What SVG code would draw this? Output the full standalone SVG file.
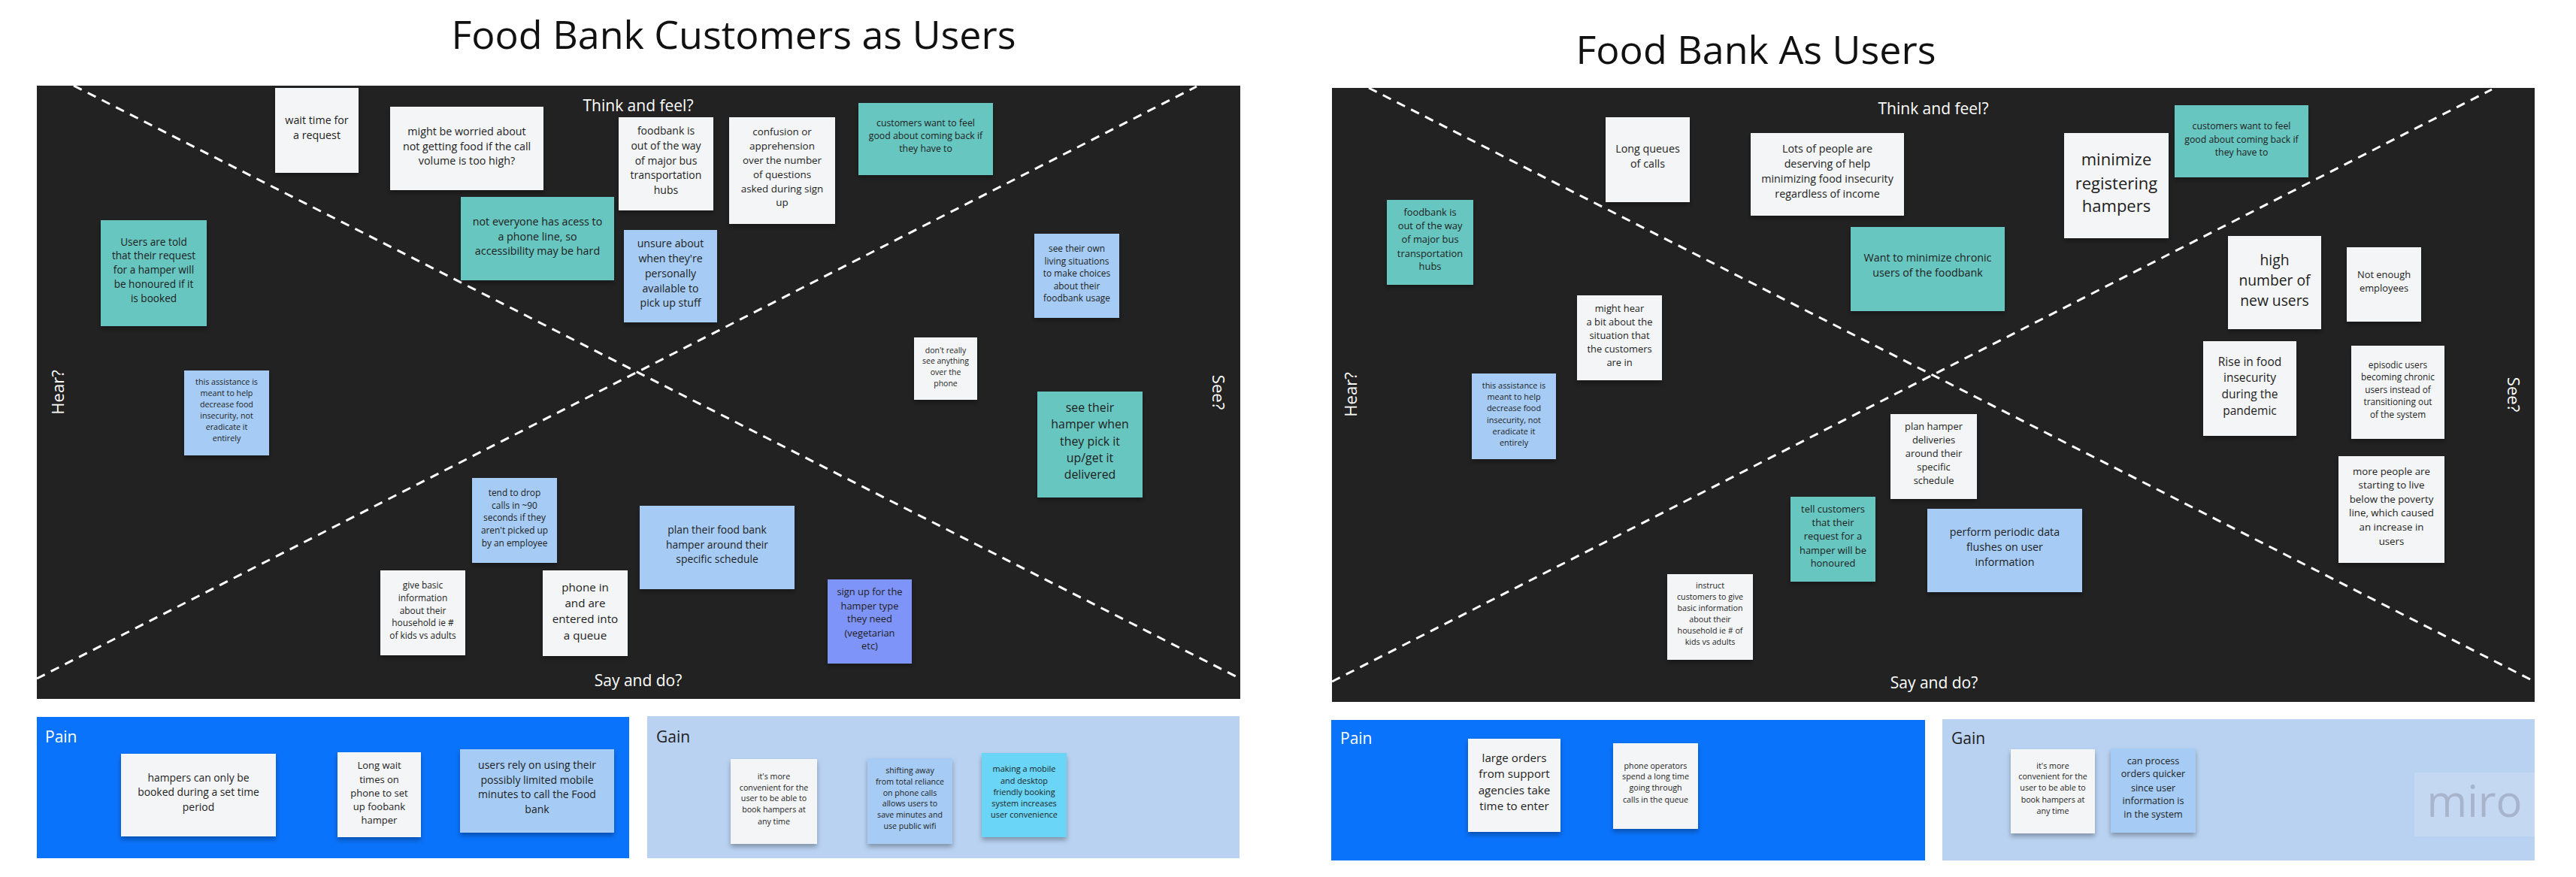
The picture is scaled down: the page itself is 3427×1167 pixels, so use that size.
<svg xmlns="http://www.w3.org/2000/svg" width="3427" height="1167" viewBox="0 0 3427 1167">
<style>
.title{font-family:"Open Sans","Liberation Sans",sans-serif;font-size:52px;fill:#111;text-anchor:middle}
.lbl{font-family:"Open Sans","Liberation Sans",sans-serif;font-size:21px;fill:#fff;text-anchor:middle}
.side{font-family:"Open Sans","Liberation Sans",sans-serif;font-size:22px;fill:#fff;text-anchor:middle}
.t{font-family:"Open Sans","Liberation Sans",sans-serif;fill:#1d1d1d;text-anchor:middle}
.sec{font-family:"Open Sans","Liberation Sans",sans-serif;font-size:21px}
.panel{fill:#222222}
.div{stroke:#ffffff;stroke-width:3;stroke-dasharray:12 9;fill:none}
.w{fill:#f4f5f7;filter:url(#sh)}
.tl{fill:#67c6c0;filter:url(#sh)}
.bl{fill:#a6ccf5;filter:url(#sh)}
.pu{fill:#7f94f8;filter:url(#sh)}
.cy{fill:#6bd5f6;filter:url(#sh)}
.pain{fill:#0a73fb}
.gain{fill:#b9d2f1}
</style>
<defs>
<filter id="sh" x="-10%" y="-10%" width="120%" height="130%">
<feDropShadow dx="0" dy="4" stdDeviation="3" flood-color="#000" flood-opacity="0.3"/>
</filter>
</defs>
<rect x="0" y="0" width="3427" height="1167" fill="#ffffff"/>

<text class="title" x="976" y="65">Food Bank Customers as Users</text>
<text class="title" x="2336" y="85">Food Bank As Users</text>

<!-- Left board -->
<g id="left-board">
<rect class="panel" x="49" y="114" width="1601" height="816"/>
<g id="left-dividers">
<line class="div" x1="98" y1="114" x2="1650" y2="903"/>
<line class="div" x1="49" y1="903" x2="1592" y2="115"/>
</g>
<text class="lbl" x="849" y="148">Think and feel?</text>
<text class="lbl" x="849" y="913">Say and do?</text>
<text class="side" transform="translate(85,522) rotate(-90)">Hear?</text>
<text class="side" transform="translate(1613,522) rotate(90)">See?</text>
</g>

<g id="L-wait"><rect class="w" x="366" y="117" width="111" height="113"/>
<text class="t" font-size="14.3"><tspan x="421.5" y="165">wait time for</tspan><tspan x="421.5" y="185">a request</tspan></text></g>

<g id="L-worried"><rect class="w" x="519" y="142" width="204" height="111"/>
<text class="t" font-size="14.3"><tspan x="621" y="180">might be worried about</tspan><tspan x="621" y="200">not getting food if the call</tspan><tspan x="621" y="219">volume is too high?</tspan></text></g>

<g id="L-access"><rect class="tl" x="613" y="262" width="204" height="111"/>
<text class="t" font-size="14.3"><tspan x="715" y="300">not everyone has acess to</tspan><tspan x="715" y="320">a phone line, so</tspan><tspan x="715" y="339">accessibility may be hard</tspan></text></g>

<g id="L-told"><rect class="tl" x="134" y="293" width="141" height="141"/>
<text class="t" font-size="13.6"><tspan x="204.5" y="327">Users are told</tspan><tspan x="204.5" y="345">that their request</tspan><tspan x="204.5" y="364">for a hamper will</tspan><tspan x="204.5" y="383">be honoured if it</tspan><tspan x="204.5" y="402">is booked</tspan></text></g>

<g id="L-assist"><rect class="bl" x="245" y="493" width="113" height="113"/>
<text class="t" font-size="10.7"><tspan x="301.5" y="512">this assistance is</tspan><tspan x="301.5" y="527">meant to help</tspan><tspan x="301.5" y="542">decrease food</tspan><tspan x="301.5" y="557">insecurity, not</tspan><tspan x="301.5" y="572">eradicate it</tspan><tspan x="301.5" y="587">entirely</tspan></text></g>

<g id="L-bus"><rect class="w" x="823" y="156" width="126" height="124"/>
<text class="t" font-size="14"><tspan x="886" y="179">foodbank is</tspan><tspan x="886" y="199">out of the way</tspan><tspan x="886" y="219">of major bus</tspan><tspan x="886" y="238">transportation</tspan><tspan x="886" y="258">hubs</tspan></text></g>

<g id="L-confusion"><rect class="w" x="970" y="156" width="141" height="142"/>
<text class="t" font-size="13.4"><tspan x="1040.5" y="180">confusion or</tspan><tspan x="1040.5" y="199">apprehension</tspan><tspan x="1040.5" y="218">over the number</tspan><tspan x="1040.5" y="237">of questions</tspan><tspan x="1040.5" y="256">asked during sign</tspan><tspan x="1040.5" y="274">up</tspan></text></g>

<g id="L-feelgood"><rect class="tl" x="1142" y="137" width="179" height="96"/>
<text class="t" font-size="12.3"><tspan x="1231.5" y="168">customers want to feel</tspan><tspan x="1231.5" y="185">good about coming back if</tspan><tspan x="1231.5" y="202">they have to</tspan></text></g>

<g id="L-unsure"><rect class="bl" x="830" y="306" width="124" height="123"/>
<text class="t" font-size="14.1"><tspan x="892" y="329">unsure about</tspan><tspan x="892" y="349">when they're</tspan><tspan x="892" y="369">personally</tspan><tspan x="892" y="389">available to</tspan><tspan x="892" y="408">pick up stuff</tspan></text></g>

<g id="L-seeown"><rect class="bl" x="1376" y="311" width="113" height="112"/>
<text class="t" font-size="11.9"><tspan x="1432.5" y="335">see their own</tspan><tspan x="1432.5" y="352">living situations</tspan><tspan x="1432.5" y="368">to make choices</tspan><tspan x="1432.5" y="385">about their</tspan><tspan x="1432.5" y="401">foodbank usage</tspan></text></g>

<g id="L-dontsee"><rect class="w" x="1216" y="449" width="84" height="83"/>
<text class="t" font-size="10.5"><tspan x="1258" y="470">don't really</tspan><tspan x="1258" y="484">see anything</tspan><tspan x="1258" y="499">over the</tspan><tspan x="1258" y="514">phone</tspan></text></g>

<g id="L-seehamper"><rect class="tl" x="1380" y="521" width="140" height="141"/>
<text class="t" font-size="15.9"><tspan x="1450" y="548">see their</tspan><tspan x="1450" y="570">hamper when</tspan><tspan x="1450" y="593">they pick it</tspan><tspan x="1450" y="615">up/get it</tspan><tspan x="1450" y="637">delivered</tspan></text></g>

<g id="L-drop"><rect class="bl" x="628" y="636" width="113" height="113"/>
<text class="t" font-size="11.9"><tspan x="684.5" y="660">tend to drop</tspan><tspan x="684.5" y="677">calls in ~90</tspan><tspan x="684.5" y="693">seconds if they</tspan><tspan x="684.5" y="710">aren't picked up</tspan><tspan x="684.5" y="727">by an employee</tspan></text></g>

<g id="L-basic"><rect class="w" x="506" y="759" width="113" height="113"/>
<text class="t" font-size="11.9"><tspan x="562.5" y="783">give basic</tspan><tspan x="562.5" y="800">information</tspan><tspan x="562.5" y="817">about their</tspan><tspan x="562.5" y="833">household ie #</tspan><tspan x="562.5" y="850">of kids vs adults</tspan></text></g>

<g id="L-phonein"><rect class="w" x="722" y="759" width="113" height="114"/>
<text class="t" font-size="15.2"><tspan x="778.5" y="787">phone in</tspan><tspan x="778.5" y="808">and are</tspan><tspan x="778.5" y="829">entered into</tspan><tspan x="778.5" y="851">a queue</tspan></text></g>

<g id="L-plan"><rect class="bl" x="851" y="673" width="206" height="111"/>
<text class="t" font-size="13.9"><tspan x="954" y="710">plan their food bank</tspan><tspan x="954" y="730">hamper around their</tspan><tspan x="954" y="749">specific schedule</tspan></text></g>

<g id="L-signup"><rect class="pu" x="1101" y="771" width="112" height="112"/>
<text class="t" font-size="12.9"><tspan x="1157" y="792">sign up for the</tspan><tspan x="1157" y="811">hamper type</tspan><tspan x="1157" y="828">they need</tspan><tspan x="1157" y="847">(vegetarian</tspan><tspan x="1157" y="864">etc)</tspan></text></g>

<!-- Left pain / gain -->
<g id="L-pain"><rect class="pain" x="49" y="954" width="788" height="188"/>
<text class="sec" x="60" y="988" fill="#ffffff">Pain</text></g>
<g id="L-gain"><rect class="gain" x="861" y="953" width="788" height="189"/>
<text class="sec" x="873" y="988" fill="#1d1d1d">Gain</text></g>

<g id="LP-set"><rect class="w" x="161" y="1003" width="206" height="110"/>
<text class="t" font-size="13.9"><tspan x="264" y="1040">hampers can only be</tspan><tspan x="264" y="1059">booked during a set time</tspan><tspan x="264" y="1079">period</tspan></text></g>

<g id="LP-wait"><rect class="w" x="449" y="1001" width="111" height="113"/>
<text class="t" font-size="13"><tspan x="504.5" y="1023">Long wait</tspan><tspan x="504.5" y="1042">times on</tspan><tspan x="504.5" y="1060">phone to set</tspan><tspan x="504.5" y="1078">up foobank</tspan><tspan x="504.5" y="1096">hamper</tspan></text></g>

<g id="LP-minutes"><rect class="bl" x="612" y="997" width="205" height="111"/>
<text class="t" font-size="14"><tspan x="714.5" y="1023">users rely on using their</tspan><tspan x="714.5" y="1043">possibly limited mobile</tspan><tspan x="714.5" y="1062">minutes to call the Food</tspan><tspan x="714.5" y="1082">bank</tspan></text></g>

<g id="LG-convenient"><rect class="w" x="972" y="1010" width="115" height="113"/>
<text class="t" font-size="10.7"><tspan x="1029.5" y="1037">it's more</tspan><tspan x="1029.5" y="1052">convenient for the</tspan><tspan x="1029.5" y="1066">user to be able to</tspan><tspan x="1029.5" y="1081">book hampers at</tspan><tspan x="1029.5" y="1097">any time</tspan></text></g>

<g id="LG-shift"><rect class="bl" x="1154" y="1009" width="113" height="114"/>
<text class="t" font-size="10.6"><tspan x="1210.5" y="1029">shifting away</tspan><tspan x="1210.5" y="1044">from total reliance</tspan><tspan x="1210.5" y="1059">on phone calls</tspan><tspan x="1210.5" y="1073">allows users to</tspan><tspan x="1210.5" y="1088">save minutes and</tspan><tspan x="1210.5" y="1103">use public wifi</tspan></text></g>

<g id="LG-mobile"><rect class="cy" x="1306" y="1002" width="113" height="112"/>
<text class="t" font-size="10.9"><tspan x="1362.5" y="1027">making a mobile</tspan><tspan x="1362.5" y="1043">and desktop</tspan><tspan x="1362.5" y="1058">friendly booking</tspan><tspan x="1362.5" y="1073">system increases</tspan><tspan x="1362.5" y="1088">user convenience</tspan></text></g>

<!-- Right board -->
<g id="right-board">
<rect class="panel" x="1772" y="117" width="1600" height="817"/>
<g id="right-dividers">
<line class="div" x1="1821" y1="117" x2="3372" y2="907"/>
<line class="div" x1="1772" y1="907" x2="3315" y2="119"/>
</g>
<text class="lbl" x="2572" y="152">Think and feel?</text>
<text class="lbl" x="2573" y="916">Say and do?</text>
<text class="side" transform="translate(1805,525) rotate(-90)">Hear?</text>
<text class="side" transform="translate(3336,525) rotate(90)">See?</text>
</g>

<g id="R-queues"><rect class="w" x="2136" y="156" width="112" height="113"/>
<text class="t" font-size="14.3"><tspan x="2192" y="203">Long queues</tspan><tspan x="2192" y="223">of calls</tspan></text></g>

<g id="R-deserving"><rect class="w" x="2329" y="177" width="204" height="110"/>
<text class="t" font-size="14.3"><tspan x="2431" y="203">Lots of people are</tspan><tspan x="2431" y="223">deserving of help</tspan><tspan x="2431" y="243">minimizing food insecurity</tspan><tspan x="2431" y="263">regardless of income</tspan></text></g>

<g id="R-bus"><rect class="tl" x="1845" y="266" width="115" height="113"/>
<text class="t" font-size="12.9"><tspan x="1902.5" y="287">foodbank is</tspan><tspan x="1902.5" y="305">out of the way</tspan><tspan x="1902.5" y="323">of major bus</tspan><tspan x="1902.5" y="342">transportation</tspan><tspan x="1902.5" y="359">hubs</tspan></text></g>

<g id="R-hear"><rect class="w" x="2098" y="393" width="113" height="113"/>
<text class="t" font-size="12.9"><tspan x="2154.5" y="415">might hear</tspan><tspan x="2154.5" y="433">a bit about the</tspan><tspan x="2154.5" y="451">situation that</tspan><tspan x="2154.5" y="469">the customers</tspan><tspan x="2154.5" y="487">are in</tspan></text></g>

<g id="R-chronic"><rect class="tl" x="2462" y="302" width="205" height="112"/>
<text class="t" font-size="14.3"><tspan x="2564.5" y="348">Want to minimize chronic</tspan><tspan x="2564.5" y="368">users of the foodbank</tspan></text></g>

<g id="R-assist"><rect class="bl" x="1958" y="497" width="112" height="114"/>
<text class="t" font-size="10.9"><tspan x="2014" y="517">this assistance is</tspan><tspan x="2014" y="532">meant to help</tspan><tspan x="2014" y="547">decrease food</tspan><tspan x="2014" y="563">insecurity, not</tspan><tspan x="2014" y="578">eradicate it</tspan><tspan x="2014" y="593">entirely</tspan></text></g>

<g id="R-register"><rect class="w" x="2746" y="177" width="139" height="140"/>
<text class="t" font-size="22"><tspan x="2815.5" y="220">minimize</tspan><tspan x="2815.5" y="252">registering</tspan><tspan x="2815.5" y="282">hampers</tspan></text></g>

<g id="R-feelgood"><rect class="tl" x="2893" y="140" width="178" height="96"/>
<text class="t" font-size="12.3"><tspan x="2982" y="172">customers want to feel</tspan><tspan x="2982" y="190">good about coming back if</tspan><tspan x="2982" y="207">they have to</tspan></text></g>

<g id="R-newusers"><rect class="w" x="2964" y="314" width="124" height="124"/>
<text class="t" font-size="19.3"><tspan x="3026" y="353">high</tspan><tspan x="3026" y="380">number of</tspan><tspan x="3026" y="407">new users</tspan></text></g>

<g id="R-employees"><rect class="w" x="3122" y="329" width="99" height="99"/>
<text class="t" font-size="12.9"><tspan x="3171.5" y="370">Not enough</tspan><tspan x="3171.5" y="388">employees</tspan></text></g>

<g id="R-rise"><rect class="w" x="2931" y="454" width="124" height="126"/>
<text class="t" font-size="15.5"><tspan x="2993" y="487">Rise in food</tspan><tspan x="2993" y="508">insecurity</tspan><tspan x="2993" y="530">during the</tspan><tspan x="2993" y="552">pandemic</tspan></text></g>

<g id="R-episodic"><rect class="w" x="3128" y="460" width="124" height="124"/>
<text class="t" font-size="11.8"><tspan x="3190" y="490">episodic users</tspan><tspan x="3190" y="506">becoming chronic</tspan><tspan x="3190" y="523">users instead of</tspan><tspan x="3190" y="539">transitioning out</tspan><tspan x="3190" y="556">of the system</tspan></text></g>

<g id="R-poverty"><rect class="w" x="3111" y="607" width="141" height="142"/>
<text class="t" font-size="13.3"><tspan x="3181.5" y="632">more people are</tspan><tspan x="3181.5" y="650">starting to live</tspan><tspan x="3181.5" y="669">below the poverty</tspan><tspan x="3181.5" y="687">line, which caused</tspan><tspan x="3181.5" y="706">an increase in</tspan><tspan x="3181.5" y="725">users</tspan></text></g>

<g id="R-planhamper"><rect class="w" x="2515" y="551" width="115" height="113"/>
<text class="t" font-size="12.9"><tspan x="2572.5" y="572">plan hamper</tspan><tspan x="2572.5" y="590">deliveries</tspan><tspan x="2572.5" y="608">around their</tspan><tspan x="2572.5" y="626">specific</tspan><tspan x="2572.5" y="644">schedule</tspan></text></g>

<g id="R-tell"><rect class="tl" x="2382" y="661" width="113" height="113"/>
<text class="t" font-size="12.9"><tspan x="2438.5" y="682">tell customers</tspan><tspan x="2438.5" y="700">that their</tspan><tspan x="2438.5" y="718">request for a</tspan><tspan x="2438.5" y="737">hamper will be</tspan><tspan x="2438.5" y="754">honoured</tspan></text></g>

<g id="R-instruct"><rect class="w" x="2218" y="764" width="114" height="114"/>
<text class="t" font-size="10.7"><tspan x="2275" y="783">instruct</tspan><tspan x="2275" y="798">customers to give</tspan><tspan x="2275" y="813">basic information</tspan><tspan x="2275" y="828">about their</tspan><tspan x="2275" y="843">household ie # of</tspan><tspan x="2275" y="858">kids vs adults</tspan></text></g>

<g id="R-flush"><rect class="bl" x="2564" y="677" width="206" height="111"/>
<text class="t" font-size="14.3"><tspan x="2667" y="713">perform periodic data</tspan><tspan x="2667" y="733">flushes on user</tspan><tspan x="2667" y="753">information</tspan></text></g>

<!-- Right pain / gain -->
<g id="R-pain"><rect class="pain" x="1771" y="958" width="790" height="187"/>
<text class="sec" x="1783" y="990" fill="#ffffff">Pain</text></g>
<g id="R-gain"><rect class="gain" x="2584" y="957" width="788" height="188"/>
<text class="sec" x="2596" y="990" fill="#1d1d1d">Gain</text></g>

<g id="RP-large"><rect class="w" x="1953" y="983" width="123" height="124"/>
<text class="t" font-size="15.2"><tspan x="2014.5" y="1014">large orders</tspan><tspan x="2014.5" y="1035">from support</tspan><tspan x="2014.5" y="1057">agencies take</tspan><tspan x="2014.5" y="1078">time to enter</tspan></text></g>

<g id="RP-operators"><rect class="w" x="2146" y="989" width="113" height="114"/>
<text class="t" font-size="10.7"><tspan x="2202.5" y="1023">phone operators</tspan><tspan x="2202.5" y="1037">spend a long time</tspan><tspan x="2202.5" y="1052">going through</tspan><tspan x="2202.5" y="1068">calls in the queue</tspan></text></g>

<g id="RG-convenient"><rect class="w" x="2675" y="997" width="112" height="112"/>
<text class="t" font-size="10.7"><tspan x="2731" y="1023">it's more</tspan><tspan x="2731" y="1037">convenient for the</tspan><tspan x="2731" y="1052">user to be able to</tspan><tspan x="2731" y="1068">book hampers at</tspan><tspan x="2731" y="1083">any time</tspan></text></g>

<g id="RG-process"><rect class="bl" x="2808" y="996" width="113" height="112"/>
<text class="t" font-size="12.6"><tspan x="2864.5" y="1017">can process</tspan><tspan x="2864.5" y="1034">orders quicker</tspan><tspan x="2864.5" y="1053">since user</tspan><tspan x="2864.5" y="1070">information is</tspan><tspan x="2864.5" y="1088">in the system</tspan></text></g>

<g id="miro-mark"><rect x="3212" y="1028" width="160" height="85" fill="#c5d8f1"/>
<text x="3292" y="1087" font-family="'Open Sans','Liberation Sans',sans-serif" font-size="58" fill="#a8b4cc" text-anchor="middle">miro</text></g>
</svg>
